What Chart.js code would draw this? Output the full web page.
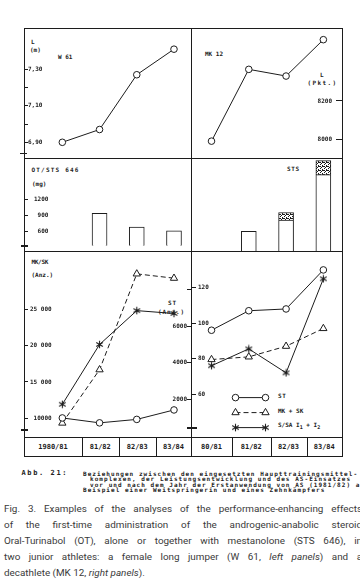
<!DOCTYPE html>
<html>
<head>
<meta charset="utf-8">
<script src="https://cdn.jsdelivr.net/npm/chart.js@4.4.1/dist/chart.umd.min.js"></script>
<style>
  html, body { margin: 0; padding: 0; background: #fff; }
  body { position: relative; width: 360px; height: 579px; overflow: hidden; }
  canvas { position: absolute; }
  .ln { position: absolute; background: #1c1c1c; }
  .m { position: absolute; font: bold 6px/1 'DejaVu Sans Mono', monospace; color: #1c1c1c; white-space: nowrap; }
  .m sub { font-size: 5px; line-height: 0; vertical-align: -2px; }
  .cell { position: absolute; top: 437px; height: 19px; display: flex; align-items: center; justify-content: center;
          font: bold 7px 'DejaVu Sans Mono', monospace; color: #1c1c1c; }
  .de { position: absolute; font: bold 6px/5.6px 'DejaVu Sans Mono', monospace; color: #222; white-space: nowrap; letter-spacing: 1.05px; }
  .en { position: absolute; left: 4px; width: 358px; font: 9.9px/16px Roboto, 'Liberation Sans', sans-serif; color: #3a3a3a;
        white-space: nowrap; text-align: justify; text-align-last: justify; }
</style>
</head>
<body>

<!-- Rahmen -->
<div class="ln" style="left:24px;top:28px;width:319px;height:1px"></div>
<div class="ln" style="left:24px;top:158px;width:319px;height:1px"></div>
<div class="ln" style="left:24px;top:251px;width:319px;height:1px"></div>
<div class="ln" style="left:24px;top:437px;width:319px;height:1px"></div>
<div class="ln" style="left:24px;top:456px;width:319px;height:1px"></div>
<div class="ln" style="left:24px;top:28px;width:1px;height:429px"></div>
<div class="ln" style="left:191px;top:28px;width:1px;height:429px"></div>
<div class="ln" style="left:342px;top:28px;width:1px;height:429px"></div>
<!-- Achsenbrüche -->
<div class="ln" style="left:20px;top:152.5px;width:7px;height:1.5px"></div>
<div class="ln" style="left:21px;top:245px;width:7px;height:2px"></div>
<div class="ln" style="left:21px;top:428.5px;width:7px;height:2px"></div>
<div class="ln" style="left:187px;top:427px;width:10px;height:1.5px"></div>

<!-- Beschriftungen -->
<div class="m" style="left:31px;top:39px">L</div>
<div class="m" style="left:30px;top:46.5px">(m)</div>
<div class="m" style="left:58px;top:54px">W 61</div>
<div class="m" style="left:205px;top:51px">MK 12</div>
<div class="m" style="left:320px;top:72px">L</div>
<div class="m" style="left:307.5px;top:79.5px;letter-spacing:1.4px">(Pkt.)</div>
<div class="m" style="left:31.5px;top:166.5px;letter-spacing:1.2px">OT/STS 646</div>
<div class="m" style="left:32px;top:180.5px">(mg)</div>
<div class="m" style="left:287px;top:166px;letter-spacing:0.7px">STS</div>
<div class="m" style="left:31.5px;top:259px;letter-spacing:-0.3px">MK/SK</div>
<div class="m" style="left:31.5px;top:272px">(Anz.)</div>
<div class="m" style="left:168px;top:299.5px;letter-spacing:1px">ST</div>
<div class="m" style="left:158px;top:309px;letter-spacing:0.9px">(Anz.)</div>
<div class="m" style="left:278px;top:392.5px;letter-spacing:0.6px">ST</div>
<div class="m" style="left:278px;top:407.5px">MK + SK</div>
<div class="m" style="left:278px;top:422px">S/SA I<sub>1</sub> + I<sub>2</sub></div>

<!-- Bildunterschriften -->
<div class="de" style="left:21.5px;top:470.5px;letter-spacing:1.6px;font-size:7px">Abb. 21:</div>
<div class="de" style="left:83px;top:470.5px">Beziehungen zwischen den eingesetzten Haupttrainingsmittel-</div>
<div class="de" style="left:90px;top:476px">komplexen, der Leistungsentwicklung und des AS-Einsatzes</div>
<div class="de" style="left:90px;top:481.5px">vor und nach dem Jahr der Erstanwendung von AS (1981/82) am</div>
<div class="de" style="left:83px;top:487px">Beispiel einer Weitspringerin und eines Zehnkämpfers</div>

<div class="en" style="top:501px">Fig. 3. Examples of the analyses of the performance-enhancing effects</div>
<div class="en" style="top:517px">of the first-time administration of the androgenic-anabolic steroid</div>
<div class="en" style="top:533px">Oral-Turinabol (OT), alone or together with mestanolone (STS 646), in</div>
<div class="en" style="top:549px">two junior athletes: a female long jumper (W 61, <i>left panels</i>) and a</div>
<div class="en" style="top:565px;text-align-last:left">decathlete (MK 12, <i>right panels</i>).</div>

<script>
/* ---------- Daten ---------- */
const seasonsW61  = ['1980/81', '81/82', '82/83', '83/84'];
const seasonsMK12 = ['80/81', '81/82', '82/83', '83/84'];

const jumpW61    = [6.90, 6.97, 7.27, 7.41];        // L (m)
const pointsMK12 = [7990, 8365, 8330, 8520];        // L (Pkt.)

const otW61   = [null, 940, 680, 610];              // OT mg
const otMK12  = [null, 660, 850, 1605];
const stsMK12 = [null, null, 125, 235];             // STS 646 mg

const stW61   = [960, 690, 880, 1400];              // ST (Anz.)
const mkskW61 = [9300, 16700, 30000, 29400];        // MK/SK (Anz.)
const ssaW61  = [11900, 20200, 24900, 24500];       // S/SA I1+I2

const stMK12   = [96, 107, 108, 130];
const mkskMK12 = [79.5, 81, 87, 97];
const ssaMK12  = [76, 85.5, 72, 125];

/* Achsenmarken */
const ticksL      = [6.9, 7.0, 7.1, 7.2, 7.3];
const labelsL     = ['6,90', '', '7,10', '', '7,30'];
const ticksPkt    = [8000, 8200];
const labelsPkt   = ['8000', '8200'];
const ticksMg     = [600, 900, 1200];
const labelsMg    = ['600', '900', '1200'];
const ticksMkSk   = [10000, 15000, 20000, 25000];
const labelsMkSk  = ['10000', '15 000', '20 000', '25 000'];
const ticksSt     = [2000, 4000, 6000, 8000];
const labelsSt    = ['2000', '4000', '6000', ''];
const ticksMk12   = [60, 80, 100, 120];
const labelsMk12  = ['60', '80', '100', '120'];

/* ---------- Layout ---------- */
const INK = '#1c1c1c';
const M   = 8;
const X_L = 24, X_D = 191, X_R = 342;
const Y_0 = 28, Y_1 = 158, Y_2 = 251, Y_3 = 437;

/* Tabellenzeile der Spielzeiten */
const colsLeft  = [24, 82, 118.5, 156, 191];
const colsRight = [191, 232, 270.5, 306.5, 342];
function buildRow(labels, cols) {
  labels.forEach((s, i) => {
    const d = document.createElement('div');
    d.className = 'cell';
    d.style.left  = cols[i] + 'px';
    d.style.width = (cols[i + 1] - cols[i]) + 'px';
    d.textContent = s;
    document.body.appendChild(d);
    if (i > 0) {
      const l = document.createElement('div');
      l.className = 'ln';
      l.style.cssText = `left:${Math.round(cols[i])}px;top:437px;width:1px;height:19px`;
      document.body.appendChild(l);
    }
  });
}
buildRow(seasonsW61, colsLeft);
buildRow(seasonsMK12, colsRight);

function makeCanvas(x0, y0, x1, y1) {
  const c = document.createElement('canvas');
  c.width  = x1 - x0 + 2 * M;
  c.height = y1 - y0 + 2 * M;
  c.style.left = (x0 - M) + 'px';
  c.style.top  = (y0 - M) + 'px';
  document.body.appendChild(c);
  return c;
}

/* Sternsymbol */
const asterisk = (() => {
  const c = document.createElement('canvas');
  c.width = 9; c.height = 9;
  const g = c.getContext('2d');
  g.strokeStyle = INK; g.lineWidth = 1.1;
  g.beginPath();
  [90, 30, 150].forEach(a => {
    const r = a * Math.PI / 180, dx = Math.cos(r) * 3.8, dy = Math.sin(r) * 3.8;
    g.moveTo(4.5 - dx, 4.5 - dy); g.lineTo(4.5 + dx, 4.5 + dy);
  });
  g.stroke();
  return c;
})();

const ST_STYLE = { pointStyle: 'circle',   pointRadius: 3.3 };
const MK_STYLE = { pointStyle: 'triangle', pointRadius: 4.2, borderDash: [5, 3] };
const SA_STYLE = { pointStyle: asterisk,   pointRadius: 4 };

function xAxis(min, max) {
  return { type: 'linear', display: false, min, max, offset: false, grid: { offset: false } };
}

/* pad < 0 bei gespiegelten Achsen rechts: Chart.js setzt sie sonst außerhalb */
function yAxis(pos, min, max, values, labels, tick, pad, align) {
  return {
    type: 'linear', position: pos, min, max,
    border: { display: false },
    grid : { drawOnChartArea: false, drawTicks: true, tickLength: tick, color: INK, lineWidth: 1 },
    ticks: {
      mirror: true, autoSkip: false, padding: pad, crossAlign: align, color: INK,
      font: { family: 'DejaVu Sans Mono', size: 6, weight: 'bold' },
      callback: (v, i) => labels[i],
    },
    afterBuildTicks: s => { s.ticks = values.map(v => ({ value: v })); },
    afterFit: s => { s.width = 0; },
  };
}

function lineDs(values, style, yID) {
  return Object.assign({
    data: values.map((v, i) => ({ x: i, y: v })),
    yAxisID: yID,
    borderColor: INK, borderWidth: 1, tension: 0,
    pointBackgroundColor: '#fff', pointBorderColor: INK, pointBorderWidth: 1,
    pointHoverRadius: 0, clip: false,
  }, style);
}

function barDs(values, fill) {
  return {
    data: values.map((v, i) => ({ x: i, y: v })),
    backgroundColor: fill, borderColor: INK, borderWidth: 1,
    barThickness: 15, stack: 'mg',
  };
}

const base = {
  responsive: false, animation: false, events: [],
  layout: { padding: M },
  plugins: { legend: { display: false }, tooltip: { enabled: false } },
};

const XL = [-1.03, 3.457];
const XR = [-0.55, 3.5];

/* ── oben links: Weitsprung ── */
new Chart(makeCanvas(X_L, Y_0, X_D, Y_1), {
  type: 'line',
  data: { datasets: [lineDs(jumpW61, ST_STYLE, 'y')] },
  options: Object.assign({}, base, {
    scales: { x: xAxis(...XL), y: yAxis('left', 6.814, 7.526, ticksL, labelsL, -4, 4, 'near') },
  }),
});

/* ── oben rechts: Zehnkampfpunkte ── */
new Chart(makeCanvas(X_D, Y_0, X_R, Y_1), {
  type: 'line',
  data: { datasets: [lineDs(pointsMK12, ST_STYLE, 'y')] },
  options: Object.assign({}, base, {
    scales: { x: xAxis(...XR), y: yAxis('right', 7902, 8581, ticksPkt, labelsPkt, -6, -10, 'near') },
  }),
});

/* ── Mitte links: OT ── */
new Chart(makeCanvas(X_L, Y_1, X_D, Y_2), {
  type: 'bar',
  data: { datasets: [barDs(otW61, '#fff')] },
  options: Object.assign({}, base, {
    scales: { x: xAxis(...XL), y: yAxis('left', 333, 1883, ticksMg, labelsMg, -4, 10, 'far') },
  }),
});

/* ── Mitte rechts: OT + STS ── */
const cMR = makeCanvas(X_D, Y_1, X_R, Y_2);
const stipple = (() => {
  const t = document.createElement('canvas');
  t.width = 4; t.height = 4;
  const g = t.getContext('2d');
  g.fillStyle = '#fff'; g.fillRect(0, 0, 4, 4);
  g.fillStyle = INK;
  [[0, 0], [2, 1], [1, 2], [3, 3], [3, 0], [1, 0]].forEach(([x, y]) => g.fillRect(x, y, 1, 1));
  return cMR.getContext('2d').createPattern(t, 'repeat');
})();
new Chart(cMR, {
  type: 'bar',
  data: { datasets: [barDs(otMK12, '#fff'), barDs(stsMK12, stipple)] },
  options: Object.assign({}, base, {
    scales: {
      x: Object.assign(xAxis(...XR), { stacked: true }),
      y: { type: 'linear', display: false, min: 333, max: 1883, stacked: true },
    },
  }),
});

/* ── unten links ── */
new Chart(makeCanvas(X_L, Y_2, X_D, Y_3), {
  type: 'line',
  data: { datasets: [
    lineDs(stW61,   ST_STYLE, 'yST'),
    lineDs(mkskW61, MK_STYLE, 'yMK'),
    lineDs(ssaW61,  SA_STYLE, 'yMK'),
  ] },
  options: Object.assign({}, base, {
    scales: {
      x  : xAxis(...XL),
      yMK: yAxis('left', 7586, 32950, ticksMkSk, labelsMkSk, -4, 6, 'far'),
      yST: yAxis('right', 0, 10054, ticksSt, labelsSt, -4, -4, 'near'),
    },
  }),
});

/* ── unten rechts mit Legende ── */
const legendPlugin = {
  id: 'legendRows',
  afterDatasetsDraw(chart) {
    const { ctx, chartArea: a } = chart;
    chart.data.datasets.forEach((ds, i) => {
      const y = a.top + 144 + i * 15;
      const x1 = a.left + 44.5, x2 = a.left + 74.5;
      ctx.save();
      ctx.strokeStyle = INK; ctx.lineWidth = 1;
      ctx.setLineDash(ds.borderDash || []);
      ctx.beginPath(); ctx.moveTo(x1, y); ctx.lineTo(x2, y); ctx.stroke();
      ctx.setLineDash([]);
      ctx.fillStyle = '#fff';
      [x1, x2].forEach(x => Chart.helpers.drawPoint(ctx,
        { pointStyle: ds.pointStyle, radius: ds.pointRadius, borderWidth: 1, rotation: 0 }, x, y));
      ctx.restore();
    });
  },
};
new Chart(makeCanvas(X_D, Y_2, X_R, Y_3), {
  type: 'line',
  data: { datasets: [
    lineDs(stMK12,   ST_STYLE, 'y'),
    lineDs(mkskMK12, MK_STYLE, 'y'),
    lineDs(ssaMK12,  SA_STYLE, 'y'),
  ] },
  options: Object.assign({}, base, {
    scales: { x: xAxis(...XR), y: yAxis('left', 37.3, 139.2, ticksMk12, labelsMk12, -5, 7, 'near') },
  }),
  plugins: [legendPlugin],
});
</script>
</body>
</html>
